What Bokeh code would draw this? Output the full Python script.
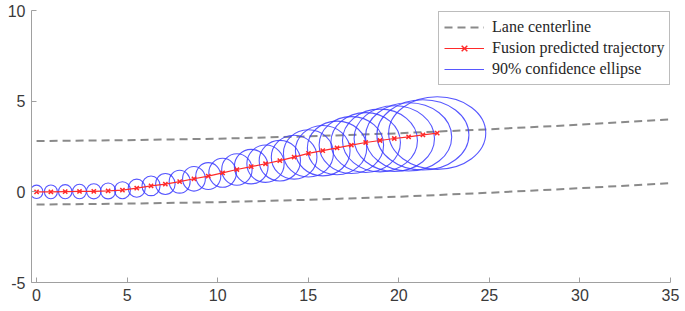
from bokeh.plotting import figure
from bokeh.models import Range1d, FixedTicker, Legend, LegendItem
from bokeh.embed import file_html
from bokeh.resources import INLINE

# ---- data ----
lane_x = [0, 5, 10, 15, 20, 25, 30, 35]
lane_upper = [2.80, 2.85, 2.93, 3.06, 3.23, 3.45, 3.70, 4.00]
lane_lower = [-0.70, -0.65, -0.57, -0.44, -0.27, -0.05, 0.20, 0.48]

traj_x = [0.00, 0.79, 1.58, 2.37, 3.16, 3.95, 4.74, 5.53, 6.32, 7.11,
          7.90, 8.69, 9.48, 10.27, 11.06, 11.85, 12.64, 13.43, 14.22, 15.01,
          15.80, 16.59, 17.38, 18.17, 18.96, 19.75, 20.54, 21.33, 22.12]
traj_y = [0.00, 0.00, 0.01, 0.02, 0.03, 0.05, 0.09, 0.20, 0.33, 0.43,
          0.56, 0.72, 0.87, 1.05, 1.23, 1.39, 1.55, 1.72, 1.91, 2.12,
          2.27, 2.42, 2.58, 2.72, 2.83, 2.94, 3.03, 3.14, 3.24]
ellipse_sx = [0.35, 0.36, 0.37, 0.38, 0.40, 0.42, 0.44, 0.47, 0.50, 0.54,
              0.58, 0.63, 0.69, 0.76, 0.84, 0.93, 1.03, 1.14, 1.26, 1.38,
              1.51, 1.64, 1.78, 1.92, 2.07, 2.22, 2.38, 2.54, 2.68]
ellipse_sy = [0.37, 0.38, 0.39, 0.40, 0.42, 0.44, 0.47, 0.50, 0.54, 0.58,
              0.63, 0.68, 0.74, 0.80, 0.87, 0.95, 1.03, 1.12, 1.21, 1.30,
              1.39, 1.48, 1.57, 1.65, 1.73, 1.81, 1.88, 1.94, 2.00]

x_ticks = [0, 5, 10, 15, 20, 25, 30, 35]
y_ticks = [-5, 0, 5, 10]
legend_labels = ["Lane centerline", "Fusion predicted trajectory", "90% confidence ellipse"]

# ---- figure ----
p = figure(width=685, height=311, output_backend="svg", toolbar_location=None,
           x_range=Range1d(-0.28, 35), y_range=Range1d(-5, 10),
           min_border_left=31, min_border_right=15, min_border_top=10, min_border_bottom=29)
p.outline_line_color = None
p.background_fill_color = "white"
p.border_fill_color = "white"
p.xgrid.visible = False
p.ygrid.visible = False

for ax in (p.xaxis[0], p.yaxis[0]):
    ax.axis_line_color = "#a0a0a0"
    ax.axis_line_width = 1
    ax.major_tick_line_color = "#a0a0a0"
    ax.major_tick_in = 5
    ax.major_tick_out = 0
    ax.minor_tick_line_color = None
    ax.major_label_text_font = "Liberation Sans"
    ax.major_label_text_font_size = "16px"
    ax.major_label_text_color = "#3a3a3a"
p.xaxis[0].ticker = FixedTicker(ticks=x_ticks)
p.yaxis[0].ticker = FixedTicker(ticks=y_ticks)
p.yaxis[0].major_label_overrides = {-5: "-5"}
p.xaxis[0].major_label_standoff = 6
p.yaxis[0].major_label_standoff = 6

lane_color = "#8a8a8a"
r_lane1 = p.line(lane_x, lane_upper, line_color=lane_color, line_width=2, line_dash="8 5")
p.line(lane_x, lane_lower, line_color=lane_color, line_width=2, line_dash="8 5")

blue = "#3a3aff"
p.ellipse(x=traj_x, y=traj_y, width=[2 * s for s in ellipse_sx], height=[2 * s for s in ellipse_sy],
          fill_color=None, line_color=blue, line_width=1.1, line_alpha=0.85)

red = "#ff2a2a"
r_traj_line = p.line(traj_x, traj_y, line_color=red, line_width=1.2)
r_traj_mark = p.scatter(traj_x, traj_y, marker="x", size=6, line_color=red, line_width=1.5)

# legend proxy (single point: draws nothing in the plot area)
r_ell_proxy = p.line(traj_x[:1], traj_y[:1], line_color=blue, line_width=1.2, line_alpha=0.85)

legend = Legend(items=[
    LegendItem(label=legend_labels[0], renderers=[r_lane1]),
    LegendItem(label=legend_labels[1], renderers=[r_traj_line, r_traj_mark]),
    LegendItem(label=legend_labels[2], renderers=[r_ell_proxy]),
], location=(407, 197))
legend.label_text_font = "Liberation Serif"
legend.label_text_font_size = "16px"
legend.label_text_color = "#262626"
legend.glyph_width = 40
legend.glyph_height = 20
legend.label_height = 20
legend.label_standoff = 8
legend.spacing = 1
legend.padding = 5
legend.margin = 0
legend.border_line_color = "#7a7a7a"
legend.border_line_width = 1
legend.background_fill_color = "white"
legend.background_fill_alpha = 1
p.add_layout(legend)

open("out.html", "w").write(file_html(p, INLINE))
